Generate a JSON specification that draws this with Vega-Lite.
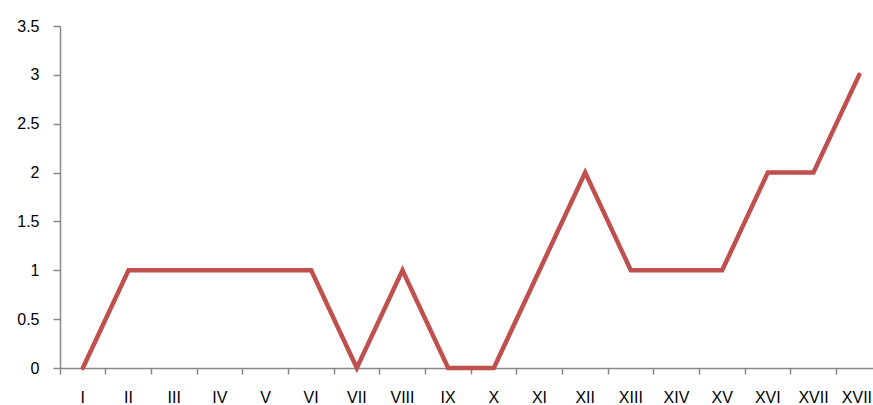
{
  "$schema": "https://vega.github.io/schema/vega-lite/v6.json",
  "autosize": {"type": "none"},
  "padding": {"left": 60, "top": 26, "right": 0, "bottom": 37},
  "width": 822,
  "height": 342,
  "background": "white",
  "config": {
    "view": {"stroke": null},
    "axis": {
      "grid": false,
      "domainColor": "#888888",
      "domainWidth": 1.5,
      "tickColor": "#888888",
      "tickWidth": 1.5,
      "labelFont": "Liberation Sans",
      "labelFontSize": 16,
      "labelColor": "#000000",
      "title": null
    }
  },
  "data": {
    "values": [
      {"cat": "I", "v": 0},
      {"cat": "II", "v": 1},
      {"cat": "III", "v": 1},
      {"cat": "IV", "v": 1},
      {"cat": "V", "v": 1},
      {"cat": "VI", "v": 1},
      {"cat": "VII", "v": 0},
      {"cat": "VIII", "v": 1},
      {"cat": "IX", "v": 0},
      {"cat": "X", "v": 0},
      {"cat": "XI", "v": 1},
      {"cat": "XII", "v": 2},
      {"cat": "XIII", "v": 1},
      {"cat": "XIV", "v": 1},
      {"cat": "XV", "v": 1},
      {"cat": "XVI", "v": 2},
      {"cat": "XVII", "v": 2},
      {"cat": "XVIII", "v": 3}
    ]
  },
  "mark": {"type": "line", "color": "#C0504D", "strokeWidth": 4.5, "strokeCap": "round", "strokeJoin": "miter"},
  "encoding": {
    "x": {
      "field": "cat",
      "type": "ordinal",
      "sort": null,
      "bandPosition": 0.5,
      "scale": {"type": "band", "paddingInner": 0, "paddingOuter": 0},
      "axis": {"labelAngle": 0, "bandPosition": 0, "tickSize": 6, "labelPadding": 15}
    },
    "y": {
      "field": "v",
      "type": "quantitative",
      "scale": {"domain": [0, 3.5], "nice": false},
      "axis": {"values": [0, 0.5, 1, 1.5, 2, 2.5, 3, 3.5], "format": "~g", "tickSize": 7, "labelPadding": 14}
    }
  }
}
